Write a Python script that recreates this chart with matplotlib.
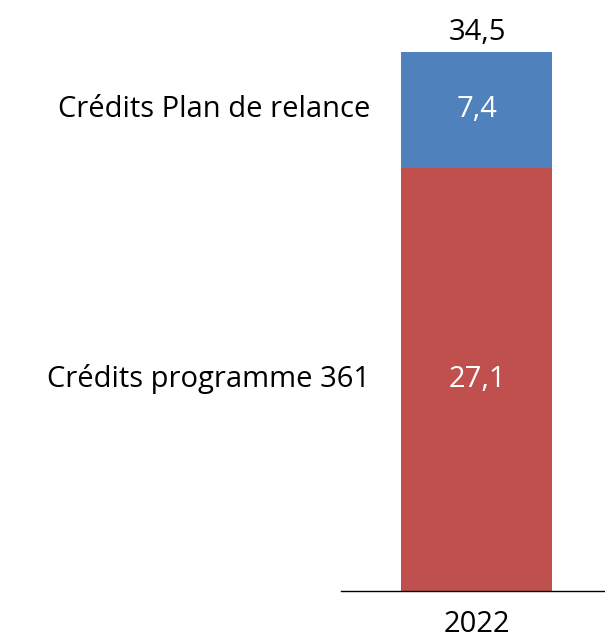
import matplotlib
matplotlib.use('Agg')
import matplotlib.pyplot as plt
import matplotlib.transforms as mtransforms

# Données
years = ['2022']
series = ['Crédits programme 361', 'Crédits Plan de relance']
programme_361 = [27.1]
plan_relance = [7.4]
totals = [34.5]
colors = ['#C0504D', '#4F81BD']

plt.rcParams['font.family'] = ['Open Sans', 'DejaVu Sans']

fig = plt.figure(figsize=(6.05, 6.38), dpi=100)
ax = fig.add_axes([341 / 605, 47 / 638, 264 / 605, 591 / 638])

x = [0]
ax.bar(x, programme_361, width=0.572, color=colors[0])
ax.bar(x, plan_relance, width=0.572, bottom=programme_361, color=colors[1])

ax.set_xlim(-0.515, 0.485)
ax.set_ylim(0, 591 / 15.62)

fs = 21
# valeurs dans les segments
for xi, a, b, t in zip(x, programme_361, plan_relance, totals):
    ax.text(xi, a / 2, f'{a:.1f}'.replace('.', ','), ha='center', va='center',
            color='white', fontsize=fs)
    ax.text(xi, a + b / 2, f'{b:.1f}'.replace('.', ','), ha='center', va='center',
            color='white', fontsize=fs)
    ax.text(xi, t + 0.35, f'{t:.1f}'.replace('.', ','), ha='center', va='bottom',
            color='black', fontsize=fs)

# étiquettes des séries à gauche
trans = mtransforms.blended_transform_factory(fig.transFigure, ax.transData)
ax.text(370 / 605, programme_361[0] / 2, series[0], ha='right', va='center',
        transform=trans, fontsize=fs, clip_on=False)
ax.text(370 / 605, programme_361[0] + plan_relance[0] / 2, series[1], ha='right',
        va='center', transform=trans, fontsize=fs, clip_on=False)

ax.set_xticks(x)
ax.set_xticklabels(years, fontsize=fs)
ax.tick_params(axis='x', length=0, pad=14)
ax.set_yticks([])
for s in ['top', 'right', 'left']:
    ax.spines[s].set_visible(False)
ax.spines['bottom'].set_linewidth(1.0)

fig.savefig('out.png', dpi=100)
